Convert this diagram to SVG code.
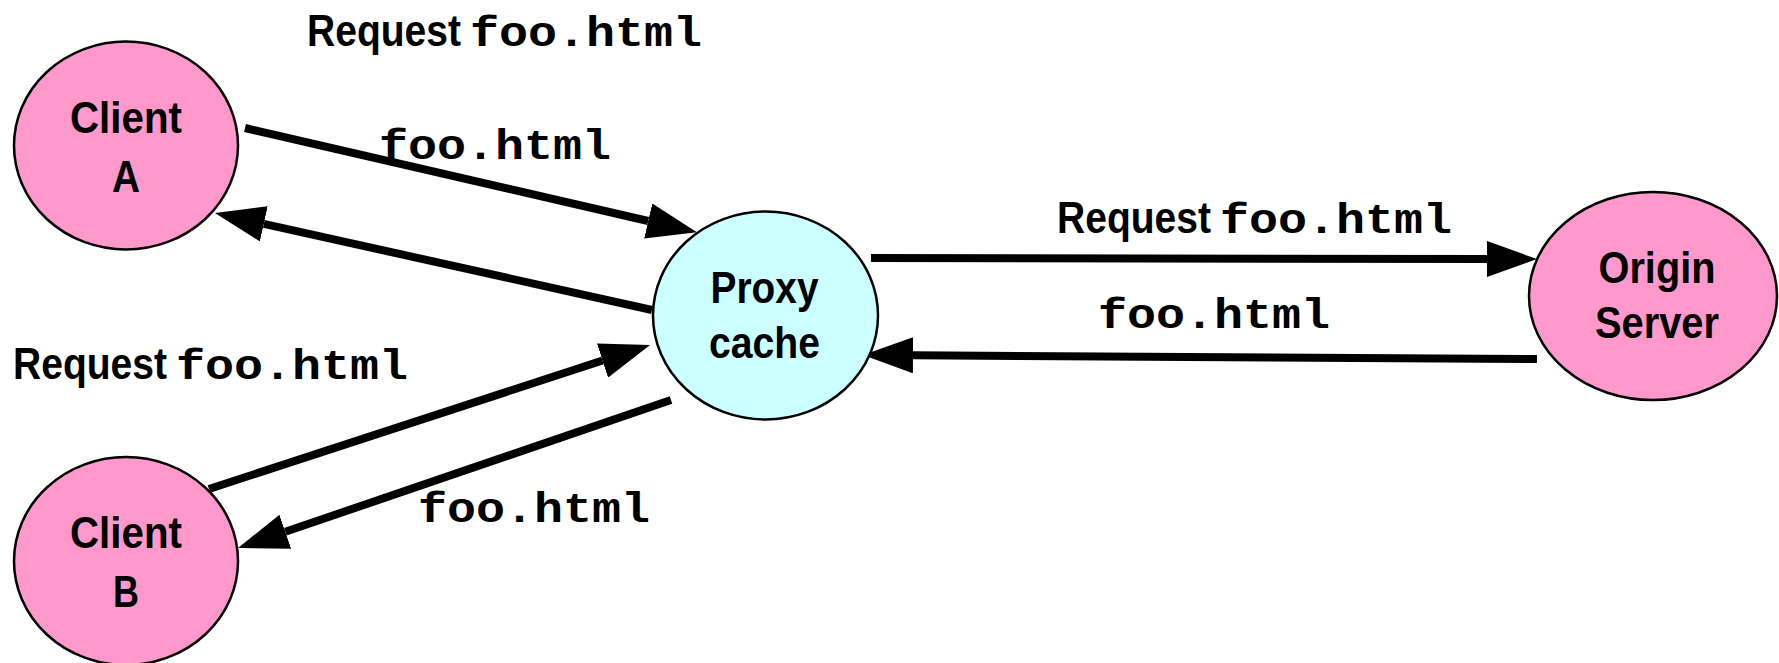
<svg xmlns="http://www.w3.org/2000/svg" width="1779" height="663" viewBox="0 0 1779 663">
  <style>
    .client { fill: #ff99cc; stroke: #000; stroke-width: 2.5; }
    .proxy { fill: #ccffff; stroke: #000; stroke-width: 2.5; }
    .name { font-family: "Liberation Sans", Arial, sans-serif; font-weight: bold; font-size: 45px; fill: #000; }
    .file { font-family: "Liberation Mono", "Courier New", monospace; font-weight: bold; font-size: 43px; fill: #000; }
    .link { fill: none; stroke: #000; stroke-width: 8; marker-end: url(#head); }
  </style>
  <defs>
    <marker id="head" markerUnits="userSpaceOnUse" viewBox="0 0 50 36" markerWidth="50" markerHeight="36" refX="0" refY="18" orient="auto">
      <path d="M0,0 L50,18 L0,36 Z" fill="#000"/>
    </marker>
  </defs>
  <rect width="1779" height="663" fill="#fff"/>

  <g id="connectors">
    <path class="link" d="M245,128 L648.2,221"/>
    <path class="link" d="M652,310 L263.8,223.8"/>
    <path class="link" d="M209,489 L602.5,360.5"/>
    <path class="link" d="M671,400 L285.3,531.8"/>
    <path class="link" d="M871,258 L1487,259"/>
    <path class="link" d="M1537,359 L913,355.3"/>
  </g>

  <g id="client-a">
    <ellipse class="client" cx="126" cy="145.5" rx="112" ry="104"/>
    <text class="name" x="126" y="133" text-anchor="middle" textLength="112" lengthAdjust="spacingAndGlyphs">Client</text>
    <text class="name" x="126" y="192" text-anchor="middle" textLength="28" lengthAdjust="spacingAndGlyphs">A</text>
  </g>

  <g id="client-b">
    <ellipse class="client" cx="126" cy="561" rx="112" ry="104"/>
    <text class="name" x="126" y="548" text-anchor="middle" textLength="112" lengthAdjust="spacingAndGlyphs">Client</text>
    <text class="name" x="126" y="607" text-anchor="middle" textLength="26" lengthAdjust="spacingAndGlyphs">B</text>
  </g>

  <g id="proxy-cache">
    <ellipse class="proxy" cx="765.5" cy="315.5" rx="112.5" ry="104"/>
    <text class="name" x="764.5" y="303" text-anchor="middle" textLength="108" lengthAdjust="spacingAndGlyphs">Proxy</text>
    <text class="name" x="764.5" y="358" text-anchor="middle" textLength="111" lengthAdjust="spacingAndGlyphs">cache</text>
  </g>

  <g id="origin-server">
    <ellipse class="client" cx="1653" cy="296" rx="124" ry="104"/>
    <text class="name" x="1657" y="283" text-anchor="middle" textLength="117" lengthAdjust="spacingAndGlyphs">Origin</text>
    <text class="name" x="1657" y="338" text-anchor="middle" textLength="124" lengthAdjust="spacingAndGlyphs">Server</text>
  </g>

  <g id="labels">
    <text class="name" x="307" y="46" textLength="154" lengthAdjust="spacingAndGlyphs">Request</text>
    <text class="file" x="470" y="46" textLength="232" lengthAdjust="spacingAndGlyphs">foo.html</text>

    <text class="file" x="379" y="159" textLength="232" lengthAdjust="spacingAndGlyphs">foo.html</text>

    <text class="name" x="1057" y="233" textLength="154" lengthAdjust="spacingAndGlyphs">Request</text>
    <text class="file" x="1220" y="233" textLength="232" lengthAdjust="spacingAndGlyphs">foo.html</text>

    <text class="file" x="1098" y="328" textLength="232" lengthAdjust="spacingAndGlyphs">foo.html</text>

    <text class="name" x="13" y="379" textLength="154" lengthAdjust="spacingAndGlyphs">Request</text>
    <text class="file" x="176" y="379" textLength="232" lengthAdjust="spacingAndGlyphs">foo.html</text>

    <text class="file" x="418" y="522" textLength="232" lengthAdjust="spacingAndGlyphs">foo.html</text>
  </g>
</svg>
